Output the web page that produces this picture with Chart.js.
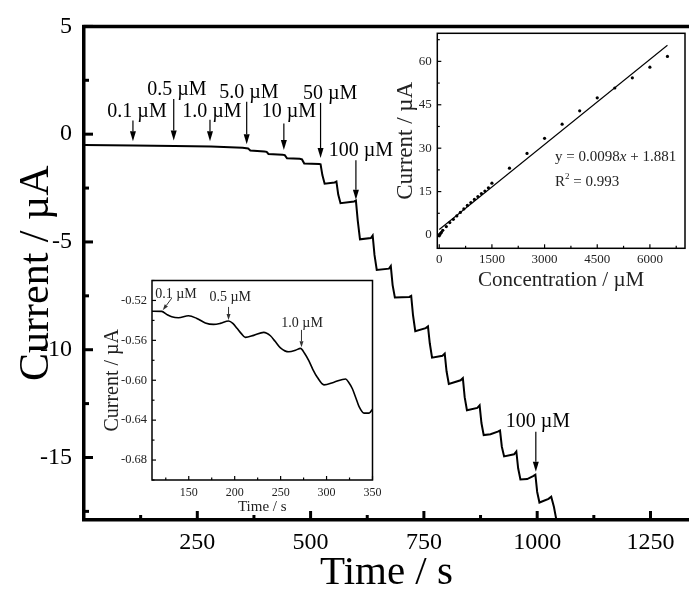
<!DOCTYPE html>
<html><head><meta charset="utf-8">
<script src="https://cdn.jsdelivr.net/npm/chart.js@4.4.1/dist/chart.umd.min.js"></script>
<style>
html,body{margin:0;padding:0;background:#fff;}
#wrap{position:relative;width:689px;height:589px;overflow:hidden;background:#fff;}
canvas{position:absolute;}
</style></head><body>
<div id="wrap">
<canvas id="mainC" width="689" height="589" style="left:0;top:0"></canvas>
<canvas id="insetT" width="300" height="250" style="left:90px;top:268px"></canvas>
<canvas id="insetC" width="294" height="275" style="left:395px;top:20px"></canvas>
</div>
<script>
// ---------------- DATA ----------------
// Main amperometric trace (time in s, current in µA)
const mainTime = [0,110,200,280,350,362,367,398,403,407,438,443,448,476,481,486,519,522,526,531,553,557,561,566,596,600,604,609,633,637,641,646,673,677,681,686,718,722,726,731,754,759,763,768,791,796,800,805,831,836,840,845,868,873,877,882,897,913,918,922,927,949,954,958,963,978,991,996,1000,1005,1025,1031,1037,1046];
const mainCurrent = [-0.50,-0.53,-0.545,-0.575,-0.63,-0.66,-0.76,-0.80,-0.82,-0.92,-0.95,-0.97,-1.12,-1.14,-1.17,-1.36,-1.38,-1.40,-1.9,-2.30,-2.24,-2.20,-2.8,-3.20,-3.12,-3.08,-4.0,-4.88,-4.82,-4.70,-5.6,-6.30,-6.24,-6.12,-7.0,-7.58,-7.55,-7.50,-8.4,-9.14,-9.0,-8.92,-9.7,-10.37,-10.28,-10.18,-11.0,-11.59,-11.42,-11.32,-12.2,-12.81,-12.7,-12.58,-13.4,-13.96,-13.92,-13.8,-13.75,-14.5,-14.95,-14.85,-14.72,-15.5,-16.02,-16.0,-15.86,-15.8,-16.6,-17.09,-16.92,-16.82,-17.3,-18.3];
const mainXTicks = [250,500,750,1000,1250];
const mainXMinor = [125,375,625,875,1125];
const mainYTicks = [5,0,-5,-10,-15];
const mainYMinor = [2.5,-2.5,-7.5,-12.5,-17.5];
const additionTimes = [108,198,278,359,441,522,600,997];
const additionLabels = ['0.1 µM','0.5 µM','1.0 µM','5.0 µM','10 µM','50 µM','100 µM','100 µM'];

// Inset: low-concentration detail
const insetTime = [110,120.6,126,131.5,138.8,149.7,158.8,168,177,184.3,193.4,198,202.5,207,211.6,220.7,231.6,238.9,244,249.8,258.9,266.2,271.7,276,280.8,285,289.9,297.2,308.1,320.8,324,328.1,332,335.4,340.8,346.3,350];
const insetCurrent = [-0.5308,-0.531,-0.534,-0.5364,-0.5374,-0.5354,-0.538,-0.5425,-0.544,-0.543,-0.5406,-0.543,-0.5479,-0.553,-0.557,-0.555,-0.552,-0.5554,-0.561,-0.5675,-0.5715,-0.570,-0.568,-0.573,-0.5806,-0.589,-0.597,-0.6046,-0.602,-0.5987,-0.602,-0.6085,-0.618,-0.6265,-0.633,-0.633,-0.629];
const insetXTicks = [150,200,250,300,350];
const insetXMinor = [125,175,225,275,325];
const insetYTicks = [-0.52,-0.56,-0.60,-0.64,-0.68];
const insetYMinor = [-0.50,-0.54,-0.58,-0.62,-0.66,-0.70];
const insetAdditionTimes = [121.7,193.3,272.7];
const insetAdditionLabels = ['0.1 µM','0.5 µM','1.0 µM'];

// Inset: calibration
const calConc = [0,10,30,60,100,200,300,400,500,600,700,800,900,1000,1100,1200,1300,1400,1500,2000,2500,3000,3500,4000,4500,5000,5500,6000,6500];
const calCurrent = [-0.3,0.2,0.5,0.9,1.6,2.9,4.3,5.4,6.6,7.8,9.0,10.2,11.2,12.3,13.3,14.3,15.2,16.3,17.9,23.1,28.2,33.4,38.3,42.9,47.4,50.8,54.3,58.0,61.7];
const fitConc = [0,6500];
const fitCurrent = [1.881,65.58];
const calXTicks = [0,1500,3000,4500,6000];
const calXMinor = [750,2250,3750,5250,6750];
const calYTicks = [0,15,30,45,60];
const calYMinor = [7.5,22.5,37.5,52.5,67.5];

// ---------------- HELPERS ----------------
const serif = "'Liberation Serif','Times New Roman',serif";
const pts = (xs, ys) => xs.map((v,i)=>({x:v,y:ys[i]}));

const framePlugin = {
  id:'frame',
  afterDatasetsDraw(chart, args, o) {
    const {ctx, chartArea:a, scales} = chart;
    ctx.save();
    ctx.strokeStyle = o.color || '#000';
    ctx.lineCap = 'butt';
    if (o.box) {
      ctx.lineWidth = o.boxWidth;
      ctx.strokeRect(a.left, a.top, a.right-a.left, a.bottom-a.top);
    }
    if (o.topLine) {
      ctx.lineWidth = o.topWidth;
      ctx.beginPath(); ctx.moveTo(a.left - o.topWidth/2, a.top); ctx.lineTo(chart.width, a.top); ctx.stroke();
    }
    const tk = (axis, vals, len, w) => {
      ctx.lineWidth = w;
      vals.forEach(v => {
        ctx.beginPath();
        if (axis === 'x') {
          const p = scales.x.getPixelForValue(v);
          if (p < a.left - 1 || p > a.right + 1) return;
          ctx.moveTo(p, a.bottom); ctx.lineTo(p, a.bottom - len);
        } else {
          const p = scales.y.getPixelForValue(v);
          if (p < a.top - 1 || p > a.bottom + 1) return;
          ctx.moveTo(a.left, p); ctx.lineTo(a.left + len, p);
        }
        ctx.stroke();
      });
    };
    tk('x', o.xMajor, o.majorLen, o.tickWidth);
    tk('x', o.xMinor, o.minorLen, o.tickWidth);
    tk('y', o.yMajor, o.majorLen, o.tickWidth);
    tk('y', o.yMinor, o.minorLen, o.tickWidth);
    ctx.restore();
  }
};

const arrowPlugin = {
  id:'arrows',
  afterDatasetsDraw(chart, args, o) {
    if (!o.items) return;
    const {ctx, scales:{x,y}} = chart;
    ctx.save();
    o.items.forEach(it => {
      const x2 = x.getPixelForValue(it.x), y2 = y.getPixelForValue(it.tip);
      const x1 = x.getPixelForValue(it.tailX !== undefined ? it.tailX : it.x), y1 = y.getPixelForValue(it.tail);
      const ang = Math.atan2(y2-y1, x2-x1);
      const hl = o.headLen, hw = o.headWidth;
      const bx = x2 - hl*Math.cos(ang), by = y2 - hl*Math.sin(ang);
      ctx.strokeStyle = o.color; ctx.fillStyle = o.color; ctx.lineWidth = o.lineWidth;
      ctx.beginPath(); ctx.moveTo(x1,y1); ctx.lineTo(bx,by); ctx.stroke();
      ctx.beginPath(); ctx.moveTo(x2,y2);
      ctx.lineTo(bx + hw/2*Math.sin(ang), by - hw/2*Math.cos(ang));
      ctx.lineTo(bx - hw/2*Math.sin(ang), by + hw/2*Math.cos(ang));
      ctx.closePath(); ctx.fill();
      ctx.font = o.font; ctx.textAlign = 'center'; ctx.textBaseline = 'middle'; ctx.fillStyle = o.textColor;
      ctx.fillText(it.text, x.getPixelForValue(it.tx), y.getPixelForValue(it.ty));
    });
    ctx.restore();
  }
};

const eqPlugin = {
  id:'eq',
  afterDatasetsDraw(chart, args, o) {
    if (!o.lines) return;
    const {ctx, scales:{x,y}} = chart;
    ctx.save(); ctx.fillStyle = o.color; ctx.textBaseline = 'middle'; ctx.textAlign = 'left';
    o.lines.forEach(line => {
      let px = x.getPixelForValue(line.x); const py = y.getPixelForValue(line.y);
      line.parts.forEach(p => {
        ctx.font = (p.italic ? 'italic ' : '') + (p.size || o.size) + 'px ' + serif;
        ctx.fillText(p.t, px, py + (p.dy || 0));
        px += ctx.measureText(p.t).width;
      });
    });
    ctx.restore();
  }
};

const fixTicks = arr => (s => { s.ticks = arr.map(v => ({value:v})); });

// ---------------- MAIN CHART ----------------
const mainGeom = [
  {tip:-0.33, tail:0.63, tx:117, ty:1.04},
  {tip:-0.29, tail:1.63, tx:205, ty:2.05},
  {tip:-0.33, tail:0.67, tx:282, ty:1.04},
  {tip:-0.47, tail:1.50, tx:364, ty:1.91},
  {tip:-0.73, tail:0.49, tx:452, ty:1.04},
  {tip:-1.11, tail:1.45, tx:543, ty:1.87},
  {tip:-3.04, tail:-1.21, tx:611, ty:-0.79},
  {tip:-15.66, tail:-13.81, tx:1001.5, ty:-13.35}
];
new Chart(document.getElementById('mainC'), {
  type:'line',
  data:{datasets:[{data:pts(mainTime, mainCurrent), borderColor:'#000', borderWidth:2, pointRadius:0, tension:0, fill:false}]},
  options:{
    responsive:false, animation:false, devicePixelRatio:1,
    layout:{padding:{top:22,left:0,right:0,bottom:0}},
    plugins:{
      legend:{display:false}, tooltip:{enabled:false},
      frame:{topLine:true, topWidth:3.5, xMajor:mainXTicks, xMinor:mainXMinor, yMajor:mainYTicks, yMinor:mainYMinor, majorLen:9, minorLen:5, tickWidth:3},
      arrows:{color:'#000', textColor:'#000', lineWidth:1.2, headLen:10, headWidth:6, font:'20px '+serif,
        items: additionTimes.map((t,i)=>Object.assign({x:t, text:additionLabels[i]}, mainGeom[i]))}
    },
    scales:{
      x:{type:'linear', min:0, max:1335,
        afterFit(s){ s.height = 69; }, afterBuildTicks: fixTicks(mainXTicks),
        grid:{display:false, drawTicks:false}, border:{display:true, color:'#000', width:3.5},
        ticks:{color:'#000', font:{family:serif, size:24}, padding:8.6, maxRotation:0, autoSkip:false, callback:v=>String(v)},
        title:{display:true, text:'Time / s', color:'#000', font:{family:serif, size:41, lineHeight:1}, padding:{top:0,bottom:-5}}},
      y:{type:'linear', min:-17.9, max:5,
        afterFit(s){ s.width = 84; }, afterBuildTicks: fixTicks(mainYTicks),
        grid:{display:false, drawTicks:false}, border:{display:true, color:'#000', width:3.5},
        ticks:{color:'#000', font:{family:serif, size:24}, padding:12, autoSkip:false, callback:v=>String(v)},
        title:{display:true, text:'Current / µA', color:'#000', font:{family:serif, size:42, lineHeight:1}, padding:{top:16,bottom:0}}}
    }
  },
  plugins:[framePlugin, arrowPlugin]
});

// ---------------- INSET: TIME DETAIL ----------------
const insetGeom = [
  {tip:-0.5298, tailX:131.5, tail:-0.5177, tx:136, ty:-0.5135},
  {tip:-0.5396, tail:-0.5265, tx:195.2, ty:-0.5167},
  {tip:-0.5669, tail:-0.5495, tx:273.4, ty:-0.543}
];
new Chart(document.getElementById('insetT'), {
  type:'line',
  data:{datasets:[{data:pts(insetTime, insetCurrent), borderColor:'#000', borderWidth:1.6, pointRadius:0, cubicInterpolationMode:'monotone', fill:false}]},
  options:{
    responsive:false, animation:false, devicePixelRatio:1,
    layout:{padding:{top:10,left:0,right:17.5,bottom:0}},
    plugins:{
      legend:{display:false}, tooltip:{enabled:false},
      frame:{box:true, boxWidth:1.5, xMajor:insetXTicks, xMinor:insetXMinor, yMajor:insetYTicks, yMinor:insetYMinor, majorLen:4, minorLen:2.5, tickWidth:1.2},
      arrows:{color:'#333', textColor:'#222', lineWidth:1, headLen:6, headWidth:4, font:'14px '+serif,
        items: insetAdditionTimes.map((t,i)=>Object.assign({x:t, text:insetAdditionLabels[i]}, insetGeom[i]))}
    },
    scales:{
      x:{type:'linear', min:110, max:350,
        afterFit(s){ s.height = 38; }, afterBuildTicks: fixTicks(insetXTicks),
        grid:{display:false, drawTicks:false}, border:{display:false},
        ticks:{color:'#222', font:{family:serif, size:12}, padding:5.5, maxRotation:0, autoSkip:false, callback:v=>String(v)},
        title:{display:true, text:'Time / s', color:'#222', font:{family:serif, size:15, lineHeight:1}, padding:{top:0,bottom:3.2}}},
      y:{type:'linear', min:-0.70, max:-0.50,
        afterFit(s){ s.width = 62; }, afterBuildTicks: fixTicks(insetYTicks),
        grid:{display:false, drawTicks:false}, border:{display:false},
        ticks:{color:'#222', font:{family:serif, size:12.5}, padding:5, autoSkip:false, callback:v=>v.toFixed(2)},
        title:{display:true, text:'Current / µA', color:'#222', font:{family:serif, size:20, lineHeight:1}, padding:{top:13.2,bottom:0}}}
    }
  },
  plugins:[framePlugin, arrowPlugin]
});

// ---------------- INSET: CALIBRATION ----------------
new Chart(document.getElementById('insetC'), {
  type:'scatter',
  data:{datasets:[
    {type:'line', data:pts(fitConc, fitCurrent), borderColor:'#000', borderWidth:1.1, pointRadius:0, tension:0, fill:false},
    {type:'scatter', data:pts(calConc, calCurrent), backgroundColor:'#000', borderColor:'#000', pointRadius:1.6, borderWidth:0}
  ]},
  options:{
    responsive:false, animation:false, devicePixelRatio:1,
    layout:{padding:{top:11.7,left:0,right:1,bottom:0}},
    plugins:{
      legend:{display:false}, tooltip:{enabled:false},
      frame:{box:true, boxWidth:1.5, xMajor:calXTicks, xMinor:calXMinor, yMajor:calYTicks, yMinor:calYMinor, majorLen:4, minorLen:2.5, tickWidth:1.2},
      eq:{color:'#222', size:15, lines:[
        {x:3300, y:26.8, parts:[{t:'y = 0.0098'},{t:'x', italic:true},{t:' + 1.881'}]},
        {x:3300, y:18.3, parts:[{t:'R'},{t:'2', size:9, dy:-5},{t:' = 0.993'}]}
      ]}
    },
    scales:{
      x:{type:'linear', min:-56, max:7000,
        afterFit(s){ s.height = 46.7; }, afterBuildTicks: fixTicks(calXTicks),
        grid:{display:false, drawTicks:false}, border:{display:false},
        ticks:{color:'#222', font:{family:serif, size:13}, padding:3.9, maxRotation:0, autoSkip:false, callback:v=>String(v)},
        title:{display:true, text:'Concentration / µM', color:'#222', font:{family:serif, size:21, lineHeight:1}, padding:{top:0,bottom:4.3}}},
      y:{type:'linear', min:-4.6, max:69.7,
        afterFit(s){ s.width = 42.3; }, afterBuildTicks: fixTicks(calYTicks),
        grid:{display:false, drawTicks:false}, border:{display:false},
        ticks:{color:'#222', font:{family:serif, size:13}, padding:5.5, autoSkip:false, callback:v=>String(v)},
        title:{display:true, text:'Current / µA', color:'#222', font:{family:serif, size:23, lineHeight:1}, padding:{top:-1,bottom:0}}}
    }
  },
  plugins:[framePlugin, eqPlugin]
});
</script>
</body></html>
